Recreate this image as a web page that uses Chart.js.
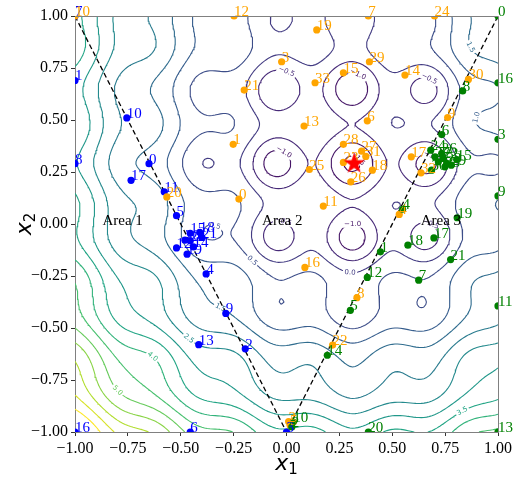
<!DOCTYPE html>
<html>
<head>
<meta charset="utf-8">
<script src="https://cdn.jsdelivr.net/npm/chart.js@4.4.1/dist/chart.umd.min.js"></script>
<style>
  html, body { margin: 0; padding: 0; background: #fff; }
  #wrap { width: 525px; height: 479px; }
</style>
</head>
<body>
<div id="wrap"><canvas id="chart" width="525" height="479"></canvas></div>
<script>
// axis ticks
const xTicks = [-1, -0.75, -0.5, -0.25, 0, 0.25, 0.5, 0.75, 1];
const yTicks = [-1, -0.75, -0.5, -0.25, 0, 0.25, 0.5, 0.75, 1];

// contour levels of the objective
const levels = [-1.5, -1.0, -0.5, 0.0, 0.5, 1.0, 1.5, 2.0, 2.5, 3.0, 3.5, 4.0, 4.5, 5.0, 5.5, 6.0, 6.5, 7.0];

// sampled points, area 1 (blue)
const blueIds = [7, 1, 10, 8, 0, 17, 11, 5, 15, 18, 21, 14, 12, 19, 20, 22, 4, 9, 13, 2, 6, 16, 3];
const blueX = [-1.0, -1.0, -0.755, -1.0, -0.65, -0.735, -0.578, -0.52, -0.455, -0.41, -0.40, -0.44, -0.52, -0.47, -0.48, -0.455, -0.38, -0.287, -0.415, -0.195, -0.455, -1.0, 0.0];
const blueY = [1.0, 0.69, 0.51, 0.29, 0.29, 0.21, 0.155, 0.04, -0.045, -0.04, -0.065, -0.11, -0.115, -0.145, -0.078, -0.08, -0.24, -0.43, -0.58, -0.60, -1.0, -1.0, -1.0];

// sampled points, area 2 (orange)
const orangeIds = [0, 1, 2, 3, 4, 5, 6, 7, 8, 9, 10, 11, 12, 13, 14, 15, 16, 17, 18, 19, 20, 21, 22, 23, 24, 25, 26, 27, 28, 29, 30, 31, 32, 33];
const orangeX = [-0.225, -0.252, 0.01, -0.023, 0.533, 0.017, 0.382, 0.387, 0.333, 0.762, -1.0, 0.174, -0.248, 0.083, 0.56, 0.269, 0.087, 0.59, 0.406, 0.143, -0.566, -0.2, 0.218, 0.269, 0.70, 0.108, 0.304, 0.355, 0.269, 0.392, 0.86, 0.375, 0.636, 0.135];
const orangeY = [0.12, 0.383, -0.95, 0.78, 0.046, -0.968, 0.496, 1.0, -0.354, 0.512, 1.0, 0.086, 1.0, 0.471, 0.716, 0.727, -0.209, 0.323, 0.259, 0.933, 0.13, 0.644, -0.582, 0.296, 1.0, 0.262, 0.203, 0.35, 0.383, 0.78, 0.695, 0.325, 0.246, 0.679];

// sampled points, area 3 (green)
const greenIds = [0, 1, 2, 3, 4, 5, 6, 7, 8, 9, 10, 11, 12, 13, 14, 15, 16, 17, 18, 19, 20, 21, 22, 23, 24, 25, 26, 27, 28, 29, 30];
const greenX = [1.0, 0.444, 0.025, 1.0, 0.549, 0.302, 0.734, 0.625, 0.833, 1.0, 0.032, 1.0, 0.382, 1.0, 0.193, 0.805, 1.0, 0.697, 0.574, 0.807, 0.387, 0.776, 0.742, 0.757, 0.682, 0.718, 0.734, 0.702, 0.749, 0.779, 0.686];
const greenY = [1.0, -0.134, -0.976, 0.407, 0.071, -0.415, 0.43, -0.27, 0.64, 0.135, -0.952, -0.394, -0.257, -1.0, -0.631, 0.31, 0.679, -0.067, -0.102, 0.03, -1.0, -0.171, 0.315, 0.291, 0.355, 0.299, 0.34, 0.323, 0.275, 0.283, 0.259];

// best point found
const bestX = [0.32];
const bestY = [0.29];

// area boundaries
const boundX = [-1, 0, 1];
const boundY = [1, -1, 1];

// area names
const areaNames = ["Area 1", "Area 2", "Area 3"];
const areaX = [-0.775, -0.02, 0.73];
const areaY = [0.012, 0.012, 0.012];

// objective shown by the contours
function objective(x1, x2) {
  const dx = x1 - 0.31, dy = x2 - 0.29;
  const r = Math.hypot(dx, dy);
  const k = 2 * Math.PI / 0.37;
  const ca = Math.cos(k * dx), cb = Math.cos(k * dy);
  const bowl = (dx < 0 ? 2.1 : 3.0) * dx * dx + (dy < 0 ? 2.2 : 1.2) * dy * dy +
    1.2 * Math.max(dx, 0) * Math.max(dy, 0) + 0.5 * Math.max(-dx, 0) * Math.max(-dy, 0);
  const depth = 0.8 * Math.exp(-Math.pow(r / 0.7, 4));
  const well = (1 + ca) * (1 + cb) / 4;
  const bump = (1 - ca) * (1 - cb) / 4;
  return bowl - depth * well - 0.13 * (ca + cb) + 0.1 * bump - 0.55;
}

const viridis = ["#440154", "#482475", "#414487", "#355f8d", "#2a788e", "#21918c", "#22a884", "#44bf70", "#7ad151", "#bddf26", "#fde725"];
function cmap(t) {
  t = Math.min(1, Math.max(0, t)) * (viridis.length - 1);
  const i = Math.min(viridis.length - 2, Math.floor(t)), f = t - i;
  const a = parseInt(viridis[i].slice(1), 16), b = parseInt(viridis[i + 1].slice(1), 16);
  const ch = s => Math.round(((a >> s) & 255) * (1 - f) + ((b >> s) & 255) * f);
  return `rgb(${ch(16)},${ch(8)},${ch(0)})`;
}
const levelColors = levels.map(L => cmap((L - levels[0]) / (levels[levels.length - 1] - levels[0])));

// marching squares on a regular grid, chained into polylines
const N = 161;
const gx = [], gy = [];
for (let i = 0; i < N; i++) { gx.push(-1 + 2 * i / (N - 1)); gy.push(-1 + 2 * i / (N - 1)); }
const grid = gy.map(y => gx.map(x => objective(x, y)));

function traceLevel(L) {
  const pts = {}, adj = {};
  const cross = (key, xa, ya, va, xb, yb, vb) => {
    if (!(key in pts)) {
      const t = (L - va) / (vb - va);
      pts[key] = [xa + t * (xb - xa), ya + t * (yb - ya)];
    }
    return key;
  };
  const link = (p, q) => { (adj[p] = adj[p] || []).push(q); (adj[q] = adj[q] || []).push(p); };
  for (let j = 0; j < N - 1; j++) {
    for (let i = 0; i < N - 1; i++) {
      const a = grid[j][i], b = grid[j][i + 1], c = grid[j + 1][i + 1], d = grid[j + 1][i];
      const sa = a >= L, sb = b >= L, sc = c >= L, sd = d >= L;
      if (sa === sb && sb === sc && sc === sd) continue;
      const x0 = gx[i], x1 = gx[i + 1], y0 = gy[j], y1 = gy[j + 1];
      const e0 = sa !== sb ? cross("h" + i + "_" + j, x0, y0, a, x1, y0, b) : null;
      const e1 = sb !== sc ? cross("v" + (i + 1) + "_" + j, x1, y0, b, x1, y1, c) : null;
      const e2 = sd !== sc ? cross("h" + i + "_" + (j + 1), x0, y1, d, x1, y1, c) : null;
      const e3 = sa !== sd ? cross("v" + i + "_" + j, x0, y0, a, x0, y1, d) : null;
      const e = [e0, e1, e2, e3].filter(v => v !== null);
      if (e.length === 2) link(e[0], e[1]);
      else if (e.length === 4) {
        const mid = (a + b + c + d) / 4 >= L;
        if (mid === sa) { link(e0, e1); link(e2, e3); }
        else { link(e3, e0); link(e1, e2); }
      }
    }
  }
  const used = new Set(), lines = [];
  const walk = start => {
    const line = [start];
    used.add(start);
    let cur = start;
    for (;;) {
      const next = adj[cur].find(k => !used.has(k));
      if (next === undefined) {
        if (line.length > 2 && adj[cur].includes(start)) line.push(start);
        break;
      }
      used.add(next); line.push(next); cur = next;
    }
    lines.push(line.map(k => pts[k]));
  };
  Object.keys(adj).forEach(k => { if (adj[k].length === 1 && !used.has(k)) walk(k); });
  Object.keys(adj).forEach(k => { if (!used.has(k)) walk(k); });
  return lines;
}
const contourLines = levels.map(traceLevel);

const fmtTick = v => v.toFixed(2).replace("-", "\u2212");
const fmtLevel = v => v.toFixed(1).replace("-", "\u2212");

// red star marker
const starImg = (() => {
  const c = document.createElement("canvas");
  c.width = c.height = 26;
  const g = c.getContext("2d");
  g.fillStyle = "#ff0000";
  g.beginPath();
  for (let i = 0; i < 10; i++) {
    const r = i % 2 ? 4.3 : 11.2, a = -Math.PI / 2 + i * Math.PI / 5;
    g.lineTo(13 + r * Math.cos(a), 13 + r * Math.sin(a));
  }
  g.closePath();
  g.fill();
  return c;
})();

const toXY = (xs, ys) => xs.map((x, i) => ({ x: x, y: ys[i] }));
const pointSet = (xs, ys, color) => ({
  data: toXY(xs, ys), backgroundColor: color, borderWidth: 0,
  pointRadius: 3.6, pointHoverRadius: 3.6, clip: 0,
});

const datasets = [
  { data: toXY(bestX, bestY), pointStyle: starImg, clip: 0 },
  pointSet(greenX, greenY, "#008000"),
  pointSet(orangeX, orangeY, "#ffa500"),
  pointSet(blueX, blueY, "#0000ff"),
  {
    data: toXY(boundX, boundY), showLine: true, borderColor: "#000", borderWidth: 1.3,
    borderDash: [5, 3], pointRadius: 0, clip: 0,
  },
];
const boundaryIndex = datasets.length - 1;
levels.forEach((L, li) => {
  const data = [];
  contourLines[li].forEach(line => {
    line.forEach(p => data.push({ x: p[0], y: p[1] }));
    data.push({ x: NaN, y: NaN });
  });
  datasets.push({
    data: data, showLine: true, borderColor: levelColors[li], borderWidth: 1.1,
    pointRadius: 0, pointHitRadius: 0, spanGaps: false, clip: 0, tension: 0,
  });
});

// inline level labels, one per long enough contour piece
function drawContourLabels(chart) {
  const ctx = chart.ctx, sx = chart.scales.x, sy = chart.scales.y, area = chart.chartArea;
  const placed = [];
  ctx.save();
  ctx.font = '7px "DejaVu Sans"';
  ctx.textAlign = "center";
  ctx.textBaseline = "middle";
  contourLines.forEach((lines, li) => {
    lines.forEach(line => {
      const p = line.map(q => [sx.getPixelForValue(q[0]), sy.getPixelForValue(q[1])]);
      const cum = [0];
      for (let i = 1; i < p.length; i++) cum.push(cum[i - 1] + Math.hypot(p[i][0] - p[i - 1][0], p[i][1] - p[i - 1][1]));
      const len = cum[cum.length - 1];
      if (len < 45) return;
      const m = cum.findIndex(c => c >= len / 2);
      const [x, y] = p[m];
      if (x < area.left + 12 || x > area.right - 12 || y < area.top + 8 || y > area.bottom - 8) return;
      if (placed.some(q => Math.hypot(q[0] - x, q[1] - y) < 38)) return;
      placed.push([x, y]);
      const i0 = Math.max(0, m - 3), i1 = Math.min(p.length - 1, m + 3);
      let ang = Math.atan2(p[i1][1] - p[i0][1], p[i1][0] - p[i0][0]);
      if (ang > Math.PI / 2) ang -= Math.PI;
      if (ang < -Math.PI / 2) ang += Math.PI;
      const txt = fmtLevel(levels[li]);
      const w = ctx.measureText(txt).width + 3;
      ctx.save();
      ctx.translate(x, y);
      ctx.rotate(ang);
      ctx.fillStyle = "#fff";
      ctx.fillRect(-w / 2, -3.5, w, 7);
      ctx.fillStyle = levelColors[li];
      ctx.fillText(txt, 0, 0);
      ctx.restore();
    });
  });
  ctx.restore();
}

function drawMathLabel(ctx, sub, cx, baseline) {
  ctx.font = 'italic 22px "DejaVu Sans"';
  const w1 = ctx.measureText("x").width;
  ctx.font = '15px "DejaVu Sans"';
  const w2 = ctx.measureText(sub).width;
  const left = cx - (w1 + w2) / 2;
  ctx.font = 'italic 22px "DejaVu Sans"';
  ctx.fillText("x", left, baseline);
  ctx.font = '15px "DejaVu Sans"';
  ctx.fillText(sub, left + w1, baseline + 4);
}

const labelPlugin = {
  id: "pointLabels",
  beforeDatasetDraw(chart, args) {
    if (args.index === boundaryIndex) drawContourLabels(chart);
    if (args.index !== 0) return;
    const ctx = chart.ctx, sx = chart.scales.x, sy = chart.scales.y, a = chart.chartArea;
    ctx.save();
    ctx.strokeStyle = "#808080";
    ctx.lineWidth = 1;
    ctx.beginPath();
    ctx.moveTo(Math.round(a.left) + 0.5, Math.round(a.top) + 0.5);
    ctx.lineTo(Math.round(a.right) + 0.5, Math.round(a.top) + 0.5);
    ctx.lineTo(Math.round(a.right) + 0.5, Math.round(a.bottom) + 0.5);
    ctx.stroke();
    ctx.font = '15px "Liberation Serif"';
    ctx.textAlign = "left";
    ctx.textBaseline = "alphabetic";
    [[blueIds, blueX, blueY, "#0000ff"], [orangeIds, orangeX, orangeY, "#ffa500"], [greenIds, greenX, greenY, "#008000"]]
      .forEach(([ids, xs, ys, color]) => {
        ctx.fillStyle = color;
        ids.forEach((id, i) => ctx.fillText(String(id), sx.getPixelForValue(xs[i]), sy.getPixelForValue(ys[i])));
      });
    ctx.fillStyle = "#000";
    ctx.textAlign = "center";
    ctx.textBaseline = "middle";
    areaNames.forEach((t, i) => ctx.fillText(t, sx.getPixelForValue(areaX[i]), sy.getPixelForValue(areaY[i])));
    ctx.restore();
  },
  afterDraw(chart) {
    const ctx = chart.ctx, a = chart.chartArea;
    ctx.save();
    ctx.fillStyle = "#000";
    ctx.textAlign = "left";
    ctx.textBaseline = "alphabetic";
    drawMathLabel(ctx, "1", (a.left + a.right) / 2, 470);
    ctx.translate(31, (a.top + a.bottom) / 2);
    ctx.rotate(-Math.PI / 2);
    drawMathLabel(ctx, "2", 0, 0);
    ctx.restore();
  },
};

const axis = (ticks, fit) => ({
  type: "linear", min: -1, max: 1,
  afterBuildTicks: s => { s.ticks = ticks.map(v => ({ value: v })); },
  afterFit: fit,
  ticks: {
    callback: v => fmtTick(v), color: "#000", padding: 3, autoSkip: false, maxRotation: 0,
    font: { family: "Liberation Serif", size: 16 },
  },
  grid: { drawOnChartArea: false, drawTicks: true, tickLength: 4, tickColor: "#333" },
  border: { display: true, color: "#808080", width: 1 },
});

new Chart(document.getElementById("chart").getContext("2d"), {
  type: "scatter",
  data: { datasets: datasets },
  options: {
    responsive: false,
    animation: false,
    events: [],
    layout: { padding: { left: 0, top: 16, right: 27, bottom: 0 } },
    plugins: { legend: { display: false }, tooltip: { enabled: false } },
    scales: {
      x: axis(xTicks, s => { s.height = 47; }),
      y: axis(yTicks, s => { s.width = 75; }),
    },
  },
  plugins: [labelPlugin],
});
</script>
</body>
</html>
